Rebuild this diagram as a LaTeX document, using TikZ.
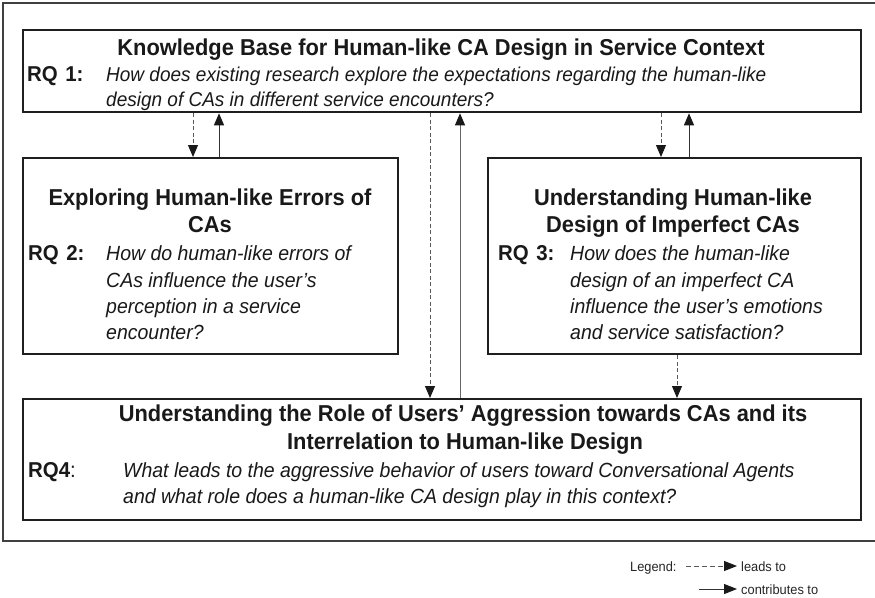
\documentclass[tikz,border=0pt]{standalone}
\usepackage{fontspec}
\setmainfont{Liberation Sans}[FakeStretch=0.95]
\usetikzlibrary{arrows.meta}
\tikzset{
  box/.style={draw=black!88, line width=2.3pt, inner sep=0pt, anchor=north west},
  ttl/.style={font=\bfseries\fontsize{23}{26}\selectfont, anchor=base, inner sep=0pt, text=black!90},
  rq/.style={font=\bfseries\fontsize{21.5}{24}\selectfont, anchor=base west, inner sep=0pt, text=black!90},
  qq/.style={font=\itshape\fontsize{20.5}{24}\selectfont, anchor=base west, inner sep=0pt, text=black!90},
  lg/.style={font=\fontsize{13.5}{15}\selectfont, anchor=base west, inner sep=0pt, text=black!85},
  tip/.style={-{Triangle[width=10pt,length=12pt,color=black!90]}},
  leads/.style={tip, draw=black!65, line width=0.9pt, dash pattern=on 4pt off 2.5pt},
  contrib/.style={tip, draw=black!80, line width=1pt},
  frame/.style={draw=black!75, line width=1.3pt}
}
\begin{document}
\begin{tikzpicture}[x=1pt,y=-1pt]
\useasboundingbox (0,0) rectangle (875,597);
\fill[white] (0,0) rectangle (875,597);
\draw[frame] (880,3) -- (3,3) -- (3,541) -- (880,541);

% boxes
\node[box, minimum width=838pt, minimum height=82pt] (kb) at (22,29) {};
\node[box, minimum width=375pt, minimum height=196pt] (err) at (22,157) {};
\node[box, minimum width=373pt, minimum height=196pt] (imp) at (487,157) {};
\node[box, minimum width=838pt, minimum height=121pt] (agg) at (22,398) {};

% top box text
\node[ttl] (kbt) at (441,55) {Knowledge Base for Human-like CA Design in Service Context};
\node[rq] (rq1) at (27,81) {RQ\hspace{0.35em}1:};
\node[qq, font=\itshape\fontsize{20}{24}\selectfont] (q1a) at (106,81) {How does existing research explore the expectations regarding the human-like};
\node[qq, font=\itshape\fontsize{20}{24}\selectfont] (q1b) at (106,106) {design of CAs in different service encounters?};

% left box text
\node[ttl] (errt1) at (210,205) {Exploring Human-like Errors of};
\node[ttl] (errt2) at (210,232) {CAs};
\node[rq] (rq2) at (28,260) {RQ\hspace{0.35em}2:};
\node[qq] (q2a) at (106,260) {How do human-like errors of};
\node[qq] (q2b) at (106,287) {CAs influence the user’s};
\node[qq] (q2c) at (106,313) {perception in a service};
\node[qq] (q2d) at (106,339) {encounter?};

% right box text
\node[ttl] (impt1) at (673,205) {Understanding Human-like};
\node[ttl] (impt2) at (673,232) {Design of Imperfect CAs};
\node[rq] (rq3) at (498,260) {RQ\hspace{0.35em}3:};
\node[qq] (q3a) at (570,260) {How does the human-like};
\node[qq] (q3b) at (570,287) {design of an imperfect CA};
\node[qq] (q3c) at (570,313) {influence the user’s emotions};
\node[qq] (q3d) at (570,339) {and service satisfaction?};

% bottom box text
\node[ttl] (aggt1) at (463,421) {Understanding the Role of Users’ Aggression towards CAs and its};
\node[ttl] (aggt2) at (465,449) {Interrelation to Human-like Design};
\node[rq] (rq4) at (28,477) {RQ4\mdseries:};
\node[qq] (q4a) at (123,477) {What leads to the aggressive behavior of users toward Conversational Agents};
\node[qq] (q4b) at (123,503) {and what role does a human-like CA design play in this context?};

% connectors
\draw[leads] (kb.south -| 193,0) -- (err.north -| 193,0);
\draw[contrib] (err.north -| 219,0) -- (kb.south -| 219,0);
\draw[leads] (kb.south -| 430,0) -- (agg.north -| 430,0);
\draw[contrib, draw=black!60] (agg.north -| 460,0) -- (kb.south -| 460,0);
\draw[leads] (kb.south -| 661,0) -- (imp.north -| 661,0);
\draw[contrib] (imp.north -| 689,0) -- (kb.south -| 689,0);
\draw[leads] (imp.south -| 677,0) -- (agg.north -| 677,0);

% legend
\node[lg] (lgl) at (630,571) {Legend:};
\coordinate (l1s) at (686,566);
\coordinate (l1e) at (737,566);
\draw[leads, dash pattern=on 5pt off 3pt, -{Triangle[width=10pt,length=13pt,color=black!90]}] (l1s) -- (l1e);
\node[lg] (lg1) at (741,571) {leads to};
\coordinate (l2s) at (699,589);
\coordinate (l2e) at (737,589);
\draw[contrib, -{Triangle[width=10pt,length=13pt,color=black!90]}] (l2s) -- (l2e);
\node[lg] (lg2) at (741,594) {contributes to};
\end{tikzpicture}
\end{document}
